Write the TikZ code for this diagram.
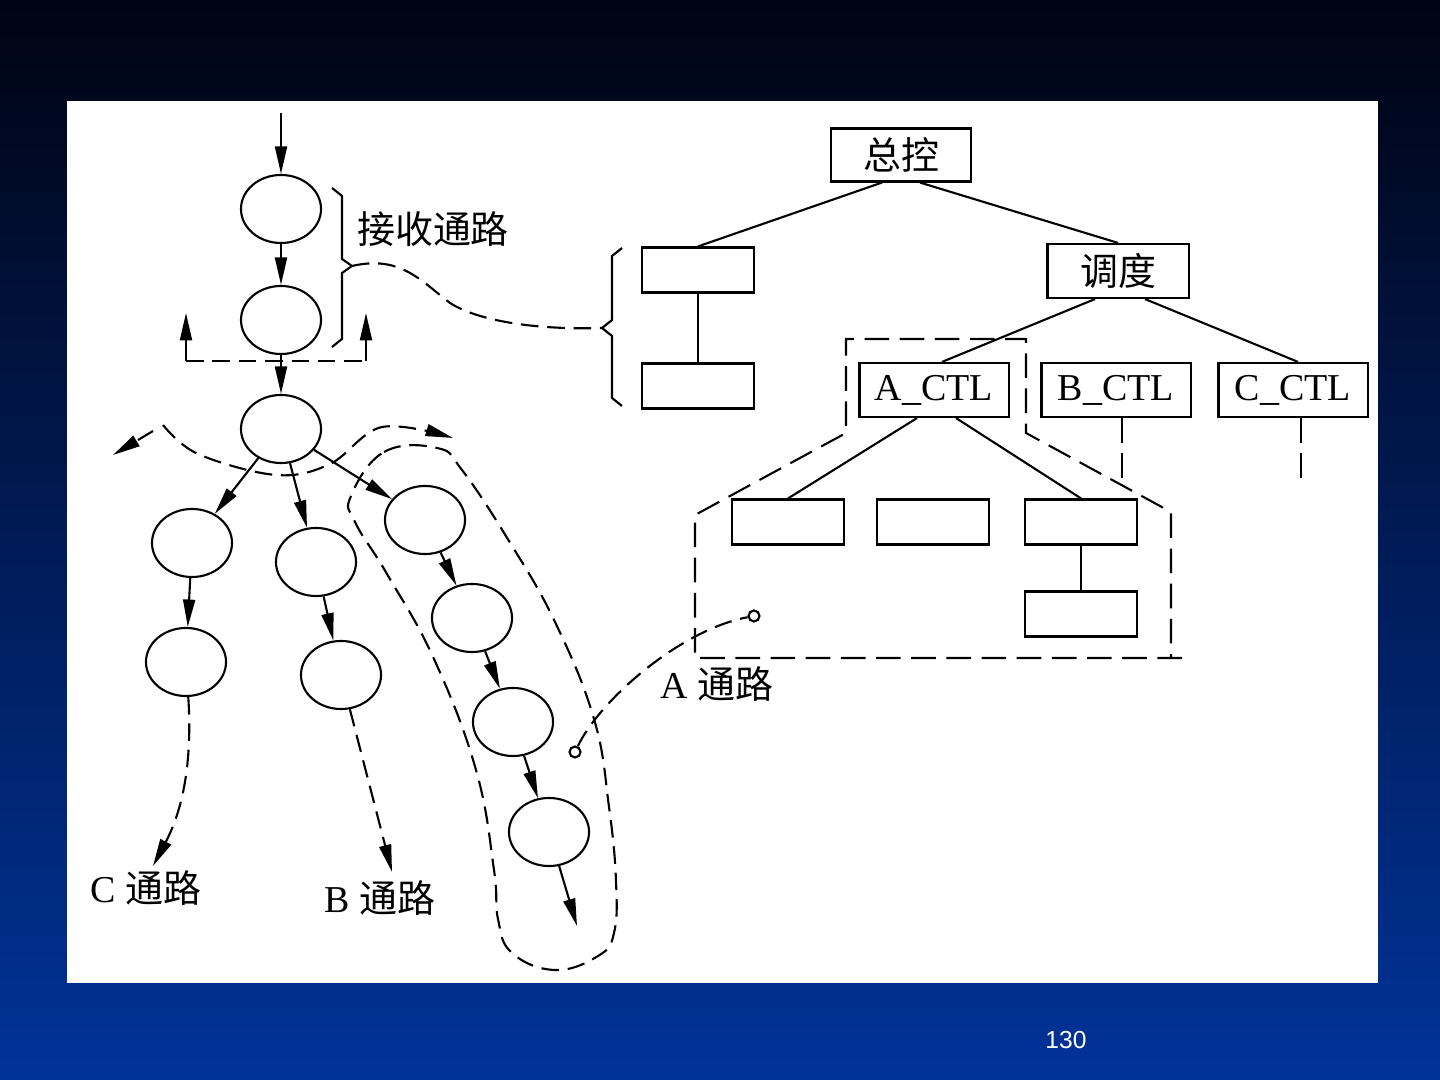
\documentclass[tikz,border=0pt]{standalone}
\usepackage{fontspec}
\setmainfont{Liberation Serif}
\newfontfamily\cjk{Noto Sans CJK SC}
\newfontfamily\pagefont{Liberation Sans}
\usetikzlibrary{arrows.meta,calc,shapes.geometric}
\definecolor{topnavy}{RGB}{0,3,18}
\definecolor{midblue}{RGB}{0,34,112}
\definecolor{slideblue}{RGB}{0,51,153}

\begin{document}
\begin{tikzpicture}[x=0.01cm,y=-0.01cm,line width=0.6pt,
  every node/.style={font=\fontsize{10.8}{13}\selectfont},
  ring/.style={draw,ellipse,inner sep=0pt,minimum width=0.8cm,minimum height=0.68cm},
  box/.style={draw,rectangle,inner sep=0pt,minimum width=1.12cm,minimum height=0.45cm},
  ctl/.style={draw,rectangle,inner sep=0pt,minimum width=1.49cm,minimum height=0.54cm},
  dot/.style={draw,circle,fill=white,inner sep=0pt,minimum size=0.11cm},
  arr/.style={-{Triangle[length=7.8pt,width=3.4pt]}},
  dsh/.style={dash pattern=on 5pt off 2.5pt},
  ldsh/.style={dash pattern=on 7pt off 3pt}]

\useasboundingbox (0,0) rectangle (1440,1080);
\shade[top color=topnavy,middle color=midblue,bottom color=slideblue] (0,0) rectangle (1440,1080);
\fill[white] (67,101) rectangle (1378,983);
\node[text=white,font=\pagefont\fontsize{7}{8}\selectfont] (pg) at (1066,1040) {130};

% left part
\node[ring] (r1) at (281,209) {};
\node[ring] (r2) at (281,320) {};
\node[ring] (r3) at (281,429) {};
\node[ring] (c1) at (192,543) {};
\node[ring] (c2) at (186,662) {};
\node[ring] (b1) at (316,562) {};
\node[ring] (b2) at (341,675) {};
\node[ring] (a1) at (425,520) {};
\node[ring] (a2) at (472,618) {};
\node[ring] (a3) at (513,722) {};
\node[ring] (a4) at (549,832) {};

\coordinate (in) at (281,113);
\coordinate (aout) at (577,926);
\draw[arr] (in) -- (r1);
\draw[arr] (r1) -- (r2);
\draw[arr] (r2) -- (r3);
\draw[arr] (r3) -- (c1);
\draw[arr] (r3) -- (b1);
\draw[arr] (r3) -- (a1);
\draw[arr] (c1) -- (c2);
\draw[arr] (b1) -- (b2);
\draw[arr] (a1) -- (a2);
\draw[arr] (a2) -- (a3);
\draw[arr] (a3) -- (a4);
\draw[arr] (a4) -- (aout);

\coordinate (tl) at (186,361);
\coordinate (tr) at (366,361);
\draw[dsh] (tl) -- (tr);
\draw[arr] (tl) -- (186,313);
\draw[arr] (tr) -- (366,313);

\draw (332,188) -- (342,196) -- (342,259) -- (352,266) -- (342,273) -- (342,339) -- (332,347);
\node (rx) at (433,229) {{\cjk 接收通路}};

\coordinate (bt1) at (352,266);
\coordinate (bt2) at (602,328);
\draw[dsh] (bt1) .. controls (400,255) and (420,280) .. (450,303) .. controls (480,322) and (540,330) .. (bt2);

\draw[dsh,arr] (153,431) -- (113,455);
\draw[dsh,arr] plot[smooth,tension=0.6] coordinates {(163,425) (198,454) (276,475) (330,464) (382,427) (453,438)};

\coordinate (cout) at (153,866);
\coordinate (bout) at (392,872);
\draw[dsh,arr] (c2) .. controls (193,770) and (180,815) .. (cout);
\draw[dsh,arr] (b2) -- (bout);

\node (cl) at (146,888) {C {\cjk 通路}};
\node (bl) at (380,898) {B {\cjk 通路}};
\node (al) at (717,684) {A {\cjk 通路}};

\draw[dsh] plot[smooth cycle,tension=0.7] coordinates {(351,496) (384,452) (437,448) (462,470) (509,541) (555,622) (594,719) (609,807) (616,881) (614,933) (598,956) (555,970) (512,953) (498,919) (494,870) (476,770) (434,659) (387,574) (355,522)};

\node[dot] (p1) at (575,752) {};
\node[dot] (p2) at (754,616) {};
\draw[dsh] (p1) .. controls (600,700) and (680,630) .. (p2);

% right part
\node[draw,inner sep=0pt,minimum width=1.40cm,minimum height=0.53cm] (zk) at (901,155) {{\cjk 总控}};
\node[box] (l1) at (698,270) {};
\node[box] (l2) at (698,386) {};
\draw (602,328) -- (612,320) -- (612,256) -- (622,248);
\draw (602,328) -- (612,336) -- (612,398) -- (622,406);

\node[draw,inner sep=0pt,minimum width=1.41cm,minimum height=0.54cm] (dd) at (1118,271) {{\cjk 调度}};
\node[ctl] (actl) at (934,390) {A\_CTL};
\node[ctl] (bctl) at (1116,390) {B\_CTL};
\node[ctl] (cctl) at (1293,390) {C\_CTL};

\node[box] (s1) at (788,522) {};
\node[box] (s2) at (933,522) {};
\node[box] (s3) at (1081,522) {};
\node[box] (s4) at (1081,614) {};

\draw ($(zk.south)+(-19,0)$) -- (l1.north);
\draw ($(zk.south)+(19,0)$) -- (dd.north);
\draw (l1) -- (l2);
\draw ($(dd.south)+(-23,0)$) -- ($(actl.north)+(8,0)$);
\draw ($(dd.south)+(4,0)$) -- ($(dd.south)+(4,0)$ |- bctl.north);
\draw ($(dd.south)+(27,0)$) -- ($(cctl.north)+(5,0)$);

\coordinate (bd) at (1122,480);
\coordinate (cd) at (1301,480);
\draw[ldsh] (bd |- bctl.south) -- (bd);
\draw[ldsh] (cd |- cctl.south) -- (cd);

\draw ($(actl.south)+(-17,0)$) -- (s1.north);
\draw ($(actl.south)+(2,0)$) -- ($(actl.south)+(2,0)$ |- s2.north);
\draw ($(actl.south)+(22,0)$) -- (s3.north);
\draw (s3) -- (s4);

\draw[ldsh] (1182,658) -- (695,658) -- (695,515) -- (846,433) -- (846,339) -- (1026,339) -- (1026,433) -- (1171,512) -- (1171,658);

\end{tikzpicture}
\end{document}
